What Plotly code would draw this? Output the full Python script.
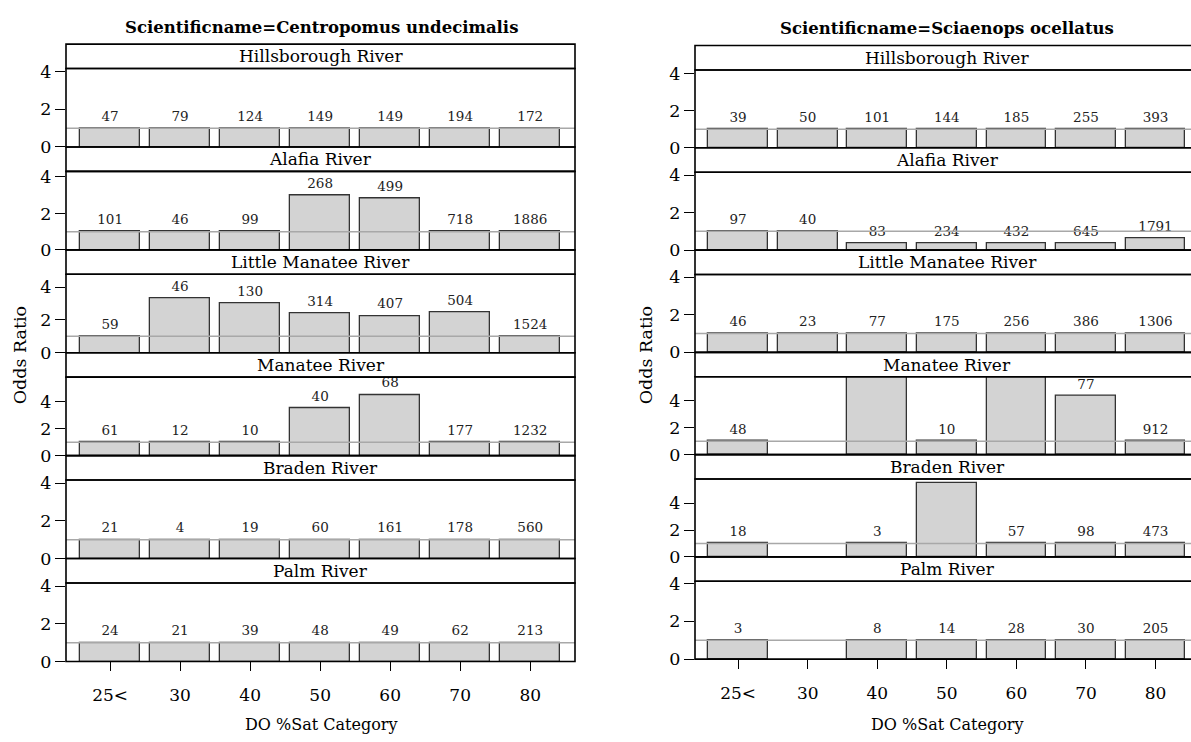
import plotly.graph_objects as go

W, H = 1191, 742

categories = ["25<", "30", "40", "50", "60", "70", "80"]
rivers = ["Hillsborough River", "Alafia River", "Little Manatee River",
          "Manatee River", "Braden River", "Palm River"]
species = ["Centropomus undecimalis", "Sciaenops ocellatus"]

# ---- Centropomus undecimalis: odds ratio and sample counts per DO %Sat category
cu_hillsborough_or = [1, 1, 1, 1, 1, 1, 1]
cu_hillsborough_n = [47, 79, 124, 149, 149, 194, 172]
cu_alafia_or = [1, 1, 1, 3.0, 2.8, 1, 1]
cu_alafia_n = [101, 46, 99, 268, 499, 718, 1886]
cu_littlemanatee_or = [1, 3.3, 3.0, 2.4, 2.25, 2.45, 1]
cu_littlemanatee_n = [59, 46, 130, 314, 407, 504, 1524]
cu_manatee_or = [1, 1, 1, 3.5, 4.5, 1, 1]
cu_manatee_n = [61, 12, 10, 40, 68, 177, 1232]
cu_braden_or = [1, 1, 1, 1, 1, 1, 1]
cu_braden_n = [21, 4, 19, 60, 161, 178, 560]
cu_palm_or = [1, 1, 1, 1, 1, 1, 1]
cu_palm_n = [24, 21, 39, 48, 49, 62, 213]

# ---- Sciaenops ocellatus
so_hillsborough_or = [1, 1, 1, 1, 1, 1, 1]
so_hillsborough_n = [39, 50, 101, 144, 185, 255, 393]
so_alafia_or = [1, 1, 0.35, 0.35, 0.35, 0.35, 0.62]
so_alafia_n = [97, 40, 83, 234, 432, 645, 1791]
so_littlemanatee_or = [1, 1, 1, 1, 1, 1, 1]
so_littlemanatee_n = [46, 23, 77, 175, 256, 386, 1306]
so_manatee_or = [1, None, 7.0, 1, 7.0, 4.35, 1]
so_manatee_n = [48, None, None, 10, None, 77, 912]
so_braden_or = [1, None, 1, 5.5, 1, 1, 1]
so_braden_n = [18, None, 3, None, 57, 98, 473]
so_palm_or = [1, None, 1, 1, 1, 1, 1]
so_palm_n = [3, None, 8, 14, 28, 30, 205]

odds = [
    [cu_hillsborough_or, cu_alafia_or, cu_littlemanatee_or, cu_manatee_or, cu_braden_or, cu_palm_or],
    [so_hillsborough_or, so_alafia_or, so_littlemanatee_or, so_manatee_or, so_braden_or, so_palm_or],
]
counts = [
    [cu_hillsborough_n, cu_alafia_n, cu_littlemanatee_n, cu_manatee_n, cu_braden_n, cu_palm_n],
    [so_hillsborough_n, so_alafia_n, so_littlemanatee_n, so_manatee_n, so_braden_n, so_palm_n],
]

# per-panel y-axis upper limits (free scales)
y_upper = [
    [4.17, 4.3, 4.78, 5.8, 4.17, 4.18],
    [4.2, 4.16, 4.15, 5.8, 5.8, 4.12],
]

# geometry (pixels)
col_x = [(66, 575), (695, 1191)]
col_xrange = [[-0.63, 6.64], [-0.62, 6.51]]
col_top = [37.0, 38.5]
col_period = [105.45, 104.8]
strip_h = 25

SERIF = "DejaVu Serif"


def px(x):
    return x / W


def py(y):
    return 1 - y / H


fig = go.Figure()
layout = {}
shapes = []
annotations = []
xs = list(range(len(categories)))

for c in range(2):
    x0, x1 = col_x[c]
    for i, river in enumerate(rivers):
        k = c * 6 + i + 1
        xn = "x" if k == 1 else f"x{k}"
        yn = "y" if k == 1 else f"y{k}"
        st = col_top[c] + col_period[c] * i
        pt = st + strip_h
        pb = st + col_period[c]
        ors = odds[c][i]
        ns = counts[c][i]

        fig.add_trace(go.Bar(
            x=xs, y=ors, xaxis=xn, yaxis=yn, width=0.857,
            marker=dict(color="#D3D3D3", line=dict(color="#333333", width=1.3)),
            showlegend=False, hoverinfo="skip"))

        keep = [j for j in xs if ns[j] is not None and ors[j] is not None]
        fig.add_trace(go.Scatter(
            x=[xs[j] for j in keep], y=[ors[j] for j in keep],
            xaxis=xn, yaxis=yn, mode="markers+text",
            text=[str(ns[j]) for j in keep], textposition="top center",
            marker=dict(size=5, color="rgba(0,0,0,0)"),
            textfont=dict(family=SERIF, size=13.5, color="#222222"),
            cliponaxis=False, showlegend=False, hoverinfo="skip"))

        bottom = (i == len(rivers) - 1)
        layout["xaxis" if k == 1 else f"xaxis{k}"] = dict(
            domain=[px(x0), min(1.0, px(x1))], range=col_xrange[c], anchor=yn,
            showgrid=False, zeroline=False, showline=False,
            tickvals=xs, ticktext=categories, showticklabels=bottom,
            ticks="outside" if bottom else "", ticklen=9, tickwidth=1.3,
            tickcolor="black", ticklabelstandoff=9,
            tickfont=dict(family=SERIF, size=17, color="black"), fixedrange=True)
        layout["yaxis" if k == 1 else f"yaxis{k}"] = dict(
            domain=[py(pb), py(pt)], range=[0, y_upper[c][i]], anchor=xn,
            showgrid=False, zeroline=False, showline=False,
            tickvals=[0, 2, 4], ticks="outside", ticklen=10, tickwidth=1.3,
            tickcolor="black", tickfont=dict(family=SERIF, size=17.5, color="black"),
            fixedrange=True)

        # reference line at odds ratio 1
        shapes.append(dict(type="line", xref=f"{xn} domain", yref=yn,
                           x0=0, x1=1, y0=1, y1=1,
                           line=dict(color="#A8A8A8", width=1.5), layer="above"))
        # strip box and panel box
        xr = px(x1) if c == 0 else 1.01
        shapes.append(dict(type="rect", xref="paper", yref="paper",
                           x0=px(x0), x1=xr, y0=py(pt), y1=py(st),
                           line=dict(color="black", width=1.6),
                           fillcolor="rgba(0,0,0,0)", layer="above"))
        shapes.append(dict(type="rect", xref="paper", yref="paper",
                           x0=px(x0), x1=xr, y0=py(pb), y1=py(pt),
                           line=dict(color="black", width=1.6),
                           fillcolor="rgba(0,0,0,0)", layer="above"))
        annotations.append(dict(text=river, xref="paper", yref="paper",
                                x=px((x0 + (575 if c == 0 else 1199)) / 2), y=py((st + pt) / 2),
                                showarrow=False, xanchor="center", yanchor="middle",
                                font=dict(family=SERIF, size=17, color="black")))

# column titles and axis titles
title_x = [321, 947]
for c in range(2):
    annotations.append(dict(text=f"<b>Scientificname={species[c]}</b>", xref="paper", yref="paper",
                            x=px(title_x[c]), y=py(20 if c == 0 else 21), showarrow=False,
                            xanchor="center", yanchor="middle",
                            font=dict(family=SERIF, size=16.5, color="black")))
    annotations.append(dict(text="DO %Sat Category", xref="paper", yref="paper",
                            x=px(title_x[c]), y=py(734), showarrow=False,
                            xanchor="center", yanchor="middle",
                            font=dict(family=SERIF, size=16, color="black")))
    annotations.append(dict(text="Odds Ratio", xref="paper", yref="paper",
                            x=px(20 if c == 0 else 646), y=py(356), showarrow=False,
                            textangle=-90, xanchor="center", yanchor="middle",
                            font=dict(family=SERIF, size=17.5, color="black")))

fig.update_layout(
    width=W, height=H, margin=dict(l=0, r=0, t=0, b=0),
    paper_bgcolor="white", plot_bgcolor="white",
    shapes=shapes, annotations=annotations, bargap=0, **layout)

fig.write_html("out.html")
